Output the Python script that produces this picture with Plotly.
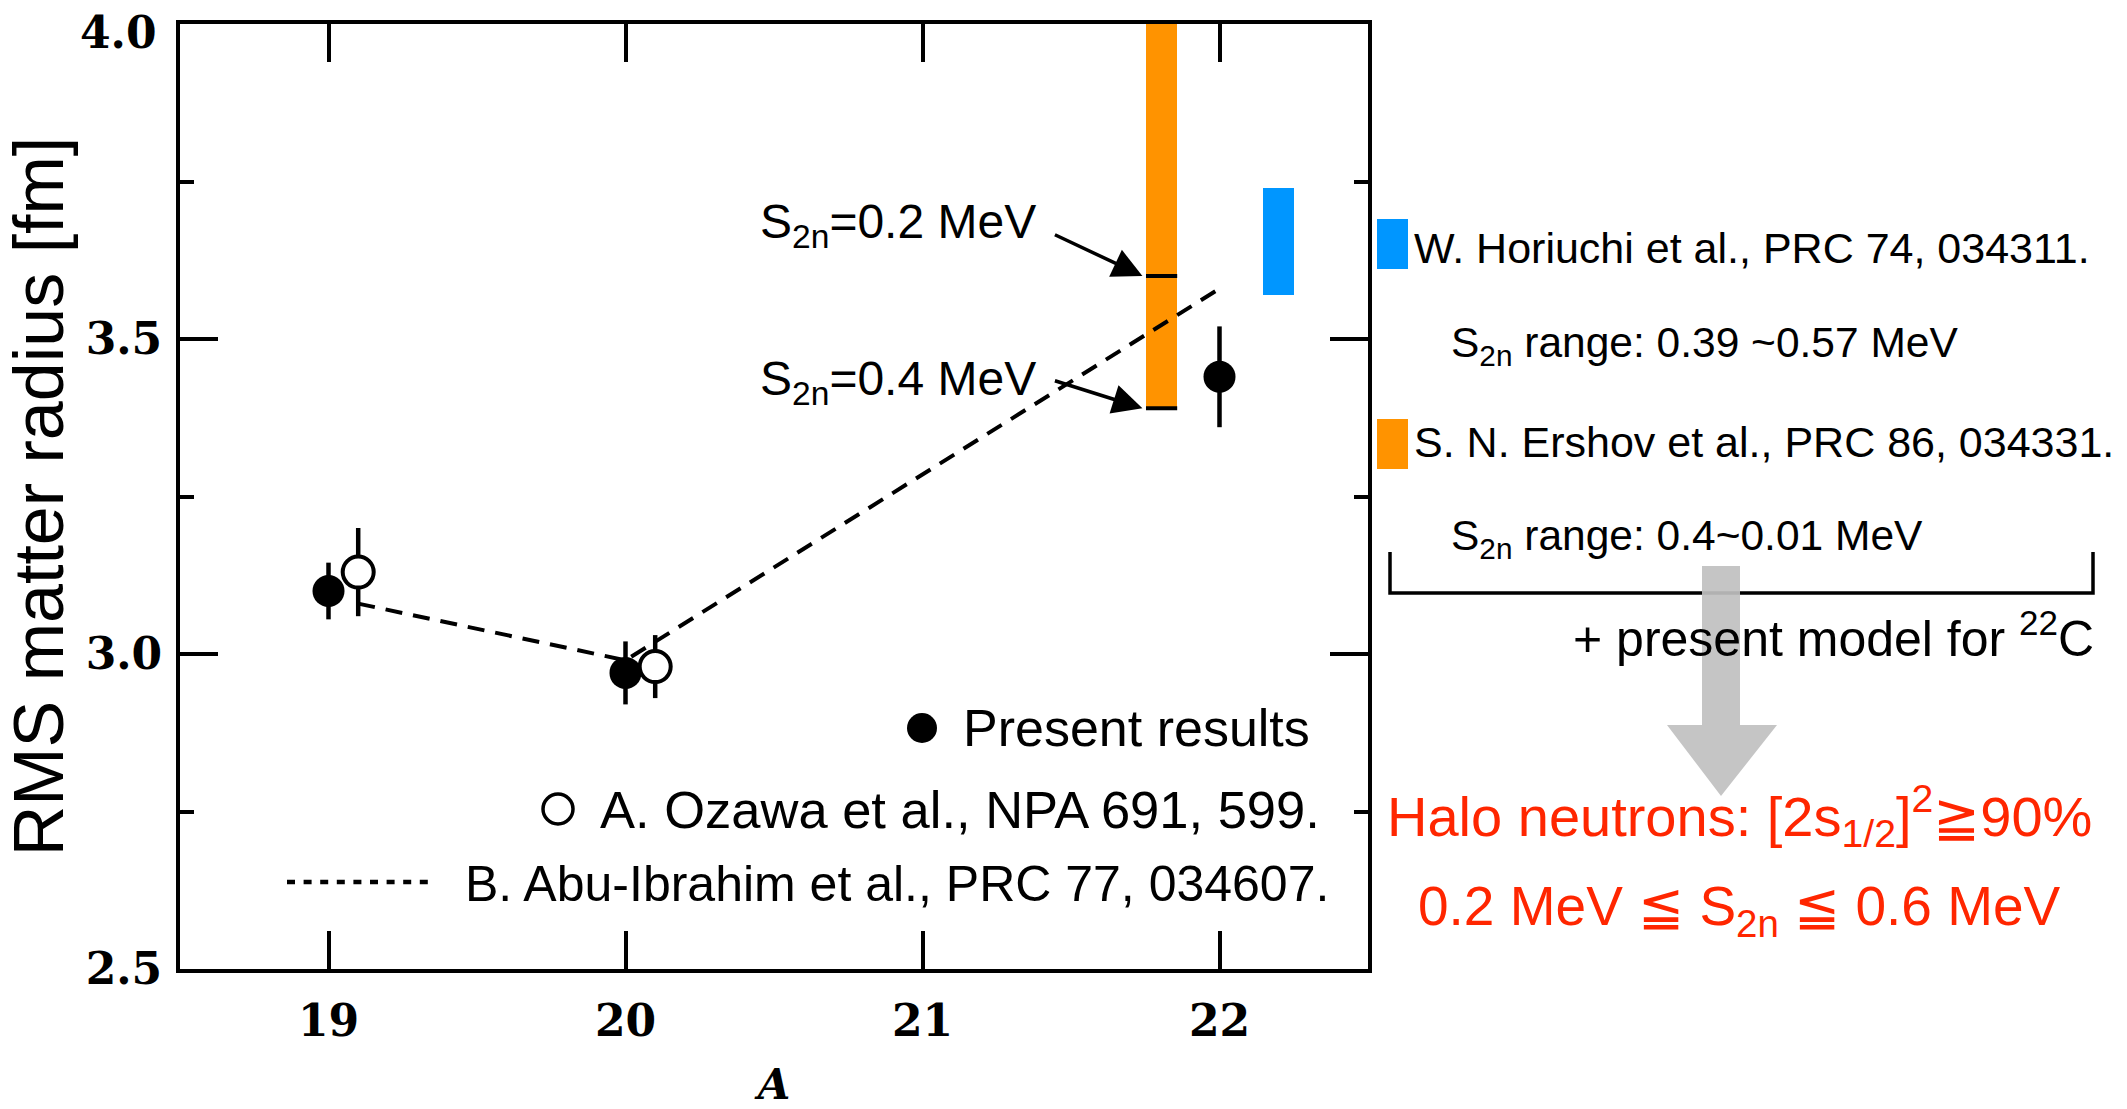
import plotly.graph_objects as go

# ---------------- data ----------------
A_present = [19, 20, 22]
R_present = [3.10, 2.97, 3.44]
E_present = [0.045, 0.05, 0.08]

A_ozawa = [19.1, 20.1]
R_ozawa = [3.13, 2.98]
E_ozawa = [0.07, 0.05]

A_theory = [19.1, 20.0, 22.0]
R_theory = [3.08, 2.99, 3.58]

# Ershov range (orange) and Horiuchi range (blue)
ershov_A = [21.805]
ershov_lo = [3.39]
ershov_hi = [4.0]
ershov_marks = [3.60, 3.39]          # S2n = 0.2 MeV, 0.4 MeV
ershov_labels = ["S<sub>2n</sub>=0.2 MeV", "S<sub>2n</sub>=0.4 MeV"]
horiuchi_A = [22.2]
horiuchi_lo = [3.57]
horiuchi_hi = [3.74]
bar_width = 0.105

x_ticks = [19, 20, 21, 22]
y_ticks = [2.5, 3.0, 3.5, 4.0]

ORANGE = "#FF9300"
BLUE = "#0096FF"
RED = "#FF2600"
GRAY = "#C0C0C0"
SANS = "Liberation Sans, Arial, Helvetica, sans-serif"
SERIF = "DejaVu Serif"

# ---------------- layout geometry (pixels) ----------------
W, H = 2127, 1109
L, R, T, B = 180, 1368, 24, 969
PW, PH = R - L, B - T


def PX(x):
    return (x - L) / PW


def PY(y):
    return (B - y) / PH


fig = go.Figure()

# theory dashed line
fig.add_trace(go.Scatter(
    x=A_theory, y=R_theory, mode="lines",
    line=dict(color="black", width=4, dash="17px,11px"),
    showlegend=False, hoverinfo="skip"))

# orange / blue bars
fig.add_trace(go.Bar(
    x=ershov_A, y=[h - l for h, l in zip(ershov_hi, ershov_lo)], base=ershov_lo,
    width=[bar_width], marker=dict(color=ORANGE, line=dict(width=0)),
    showlegend=False, hoverinfo="skip"))
fig.add_trace(go.Bar(
    x=horiuchi_A, y=[h - l for h, l in zip(horiuchi_hi, horiuchi_lo)], base=horiuchi_lo,
    width=[bar_width], marker=dict(color=BLUE, line=dict(width=0)),
    showlegend=False, hoverinfo="skip"))

# black marks on the orange bar
for m in ershov_marks:
    fig.add_trace(go.Scatter(
        x=[ershov_A[0] - bar_width / 2, ershov_A[0] + bar_width / 2], y=[m, m],
        mode="lines", line=dict(color="black", width=4),
        showlegend=False, hoverinfo="skip"))

# present results (filled)
fig.add_trace(go.Scatter(
    x=A_present, y=R_present, mode="markers",
    marker=dict(size=32, color="black", line=dict(width=0)),
    error_y=dict(type="data", array=E_present, thickness=4.5, width=0, color="black"),
    showlegend=False, hoverinfo="skip"))

# Ozawa (open)
fig.add_trace(go.Scatter(
    x=A_ozawa, y=R_ozawa, mode="markers",
    marker=dict(size=31, color="white", line=dict(width=4, color="black")),
    error_y=dict(type="data", array=E_ozawa, thickness=4.5, width=0, color="black"),
    showlegend=False, hoverinfo="skip"))

annotations = []
# top y tick label, drawn slightly lowered (as in the original) so it is not clipped
annotations.append(dict(
    x=PX(159), y=PY(33), xref="paper", yref="paper", text=f"{y_ticks[-1]:.1f}",
    showarrow=False, xanchor="right", yanchor="middle",
    font=dict(family=SERIF, size=44, color="black", weight="bold")))

# arrows to S2n marks
tip_x = ershov_A[0] - bar_width / 2 - 0.012
for lab, m, (ax, ay), ty in zip(ershov_labels, ershov_marks, [(-89, -42), (-89, -28)], [225, 382]):
    annotations.append(dict(
        x=tip_x, y=m, xref="x", yref="y", text="", showarrow=True,
        ax=ax, ay=ay, arrowhead=2, arrowsize=1.7, arrowwidth=3.5, arrowcolor="black",
        standoff=0, startstandoff=0))
    annotations.append(dict(
        x=PX(758), y=PY(ty), xref="paper", yref="paper", text=lab, showarrow=False,
        xanchor="left", yanchor="middle", font=dict(family=SANS, size=48, color="black")))

# in-plot legend texts
leg = [("Present results", 1136, 728, 52), ("A. Ozawa et al., NPA 691, 599.", 960, 809, 52.5),
       ("B. Abu-Ibrahim et al., PRC 77, 034607.", 897, 884, 50)]
for txt, cx, cy, sz in leg:
    annotations.append(dict(
        x=PX(cx), y=PY(cy), xref="paper", yref="paper", text=txt, showarrow=False,
        xanchor="center", yanchor="middle", font=dict(family=SANS, size=sz, color="black")))

# right-side texts
right = [
    ("W. Horiuchi et al., PRC 74, 034311.", 1412, 248, "left", 43, "black"),
    ("S<sub>2n</sub> range: 0.39 ~0.57 MeV", 1449, 345, "left", 42.5, "black"),
    ("S. N. Ershov et al., PRC 86, 034331.", 1412, 442, "left", 43, "black"),
    ("S<sub>2n</sub> range: 0.4~0.01 MeV", 1449, 538, "left", 42.5, "black"),
    ("+ present model for <sup>22</sup>C", 2096, 635, "right", 50, "black"),
    ("Halo neutrons: [2s<sub>1/2</sub>]<sup>2</sup>≧90%", 1739, 816, "center", 56, RED),
    ("0.2 MeV ≦ S<sub>2n</sub> ≦ 0.6 MeV", 1739, 910, "center", 55, RED),
]
for txt, x, y, anc, sz, col in right:
    annotations.append(dict(
        x=PX(x), y=PY(y), xref="paper", yref="paper", text=txt, showarrow=False,
        xanchor=anc, yanchor="middle", font=dict(family=SANS, size=sz, color=col)))

shapes = [
    # colored squares
    dict(type="rect", xref="paper", yref="paper", x0=PX(1377), x1=PX(1408),
         y0=PY(269), y1=PY(219), fillcolor=BLUE, line=dict(width=0)),
    dict(type="rect", xref="paper", yref="paper", x0=PX(1377), x1=PX(1408),
         y0=PY(469), y1=PY(419), fillcolor=ORANGE, line=dict(width=0)),
    # bracket
    dict(type="path", xref="paper", yref="paper",
         path=f"M {PX(1390)},{PY(552)} L {PX(1390)},{PY(593)} L {PX(2093)},{PY(593)} L {PX(2093)},{PY(552)}",
         line=dict(color="black", width=3.5)),
    # gray arrow
    dict(type="path", xref="paper", yref="paper",
         path=(f"M {PX(1702)},{PY(566)} L {PX(1740)},{PY(566)} L {PX(1740)},{PY(725)} "
               f"L {PX(1777)},{PY(725)} L {PX(1721)},{PY(796)} L {PX(1667)},{PY(725)} "
               f"L {PX(1702)},{PY(725)} Z"),
         fillcolor=GRAY, opacity=0.92, line=dict(width=0), layer="above"),
    # legend symbols
    dict(type="circle", xref="paper", yref="paper", x0=PX(907), x1=PX(937),
         y0=PY(743), y1=PY(713), fillcolor="black", line=dict(width=0)),
    dict(type="circle", xref="paper", yref="paper", x0=PX(543), x1=PX(573),
         y0=PY(824), y1=PY(794), fillcolor="white", line=dict(color="black", width=3.5)),
    dict(type="line", xref="paper", yref="paper", x0=PX(287), x1=PX(429),
         y0=PY(882), y1=PY(882), line=dict(color="black", width=4.5, dash="8px,8.6px")),
]

fig.update_layout(
    width=W, height=H, autosize=False,
    margin=dict(l=L, r=W - R, t=T, b=H - B, pad=0),
    paper_bgcolor="white", plot_bgcolor="white",
    showlegend=False, bargap=0,
    annotations=annotations, shapes=shapes,
)

fig.update_xaxes(
    range=[18.5, 22.5], tickvals=x_ticks, ticktext=[str(v) for v in x_ticks],
    ticks="inside", ticklen=38, tickwidth=4, tickcolor="black",
    showline=True, linewidth=4, linecolor="black", mirror="ticks",
    showgrid=False, zeroline=False, automargin=False,
    tickfont=dict(family=SERIF, size=44, color="black", weight="bold"),
    ticklabelstandoff=10, ticklabeloverflow="allow",
    title=dict(text="A", standoff=32,
               font=dict(family=SERIF, size=42, color="black", weight="bold", style="italic")),
)
fig.update_yaxes(
    range=[2.5, 4.0], tickvals=y_ticks,
    ticktext=[f"{v:.1f}" for v in y_ticks[:-1]] + [""],
    ticks="inside", ticklen=38, tickwidth=4, tickcolor="black",
    minor=dict(tickvals=[2.75, 3.25, 3.75], ticks="inside", ticklen=14, tickwidth=4,
               tickcolor="black", showgrid=False),
    showline=True, linewidth=4, linecolor="black", mirror="ticks",
    showgrid=False, zeroline=False, automargin=False,
    tickfont=dict(family=SERIF, size=44, color="black", weight="bold"),
    ticklabelstandoff=5, ticklabeloverflow="allow",
    title=dict(text="RMS matter radius [fm]", standoff=0,
               font=dict(family=SANS, size=70, color="black")),
)

fig.write_html("out.html")
